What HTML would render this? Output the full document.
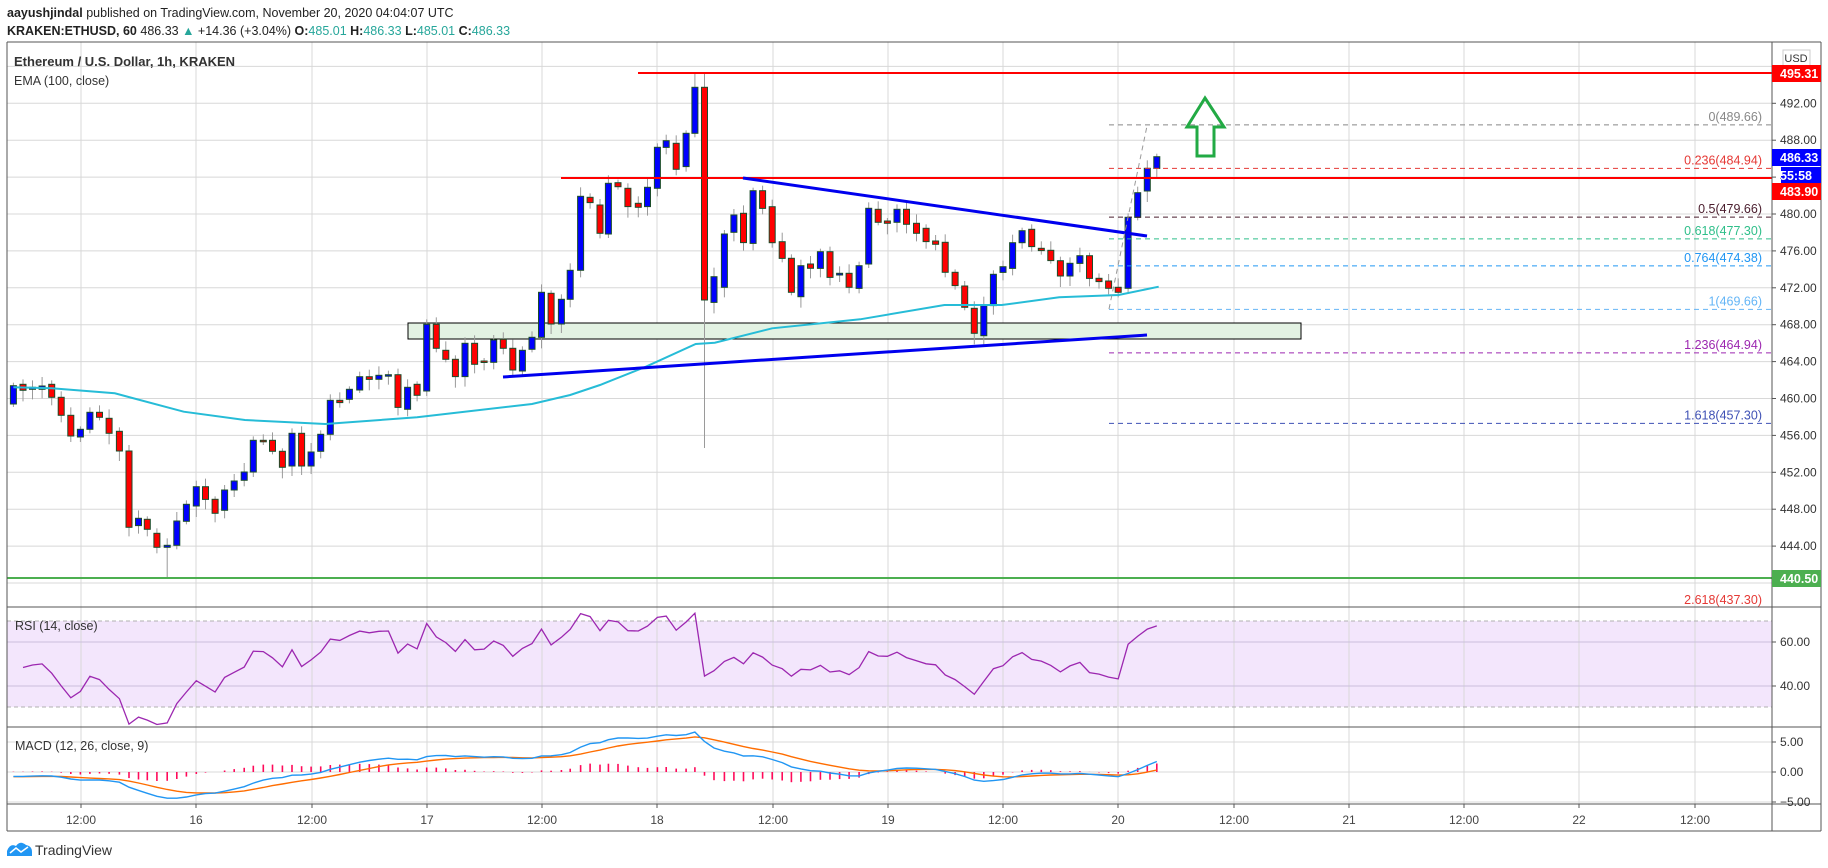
<!DOCTYPE html>
<html><head><meta charset="utf-8"><style>
html,body{margin:0;padding:0;background:#fff;width:1828px;height:868px;overflow:hidden;font-family:"Liberation Sans",sans-serif;}
#hdr1{position:absolute;left:7px;top:6px;font-size:12.5px;color:#222;}
#hdr2{position:absolute;left:7px;top:24px;font-size:12.5px;color:#222;}
.g{color:#26a69a}
</style></head><body>
<div id="hdr1"><b>aayushjindal</b> published on TradingView.com, November 20, 2020 04:04:07 UTC</div>
<div id="hdr2"><b>KRAKEN:ETHUSD, 60</b> 486.33 <span class="g">▲</span> +14.36 (+3.04%) <b>O:</b><span class="g">485.01</span> <b>H:</b><span class="g">486.33</span> <b>L:</b><span class="g">485.01</span> <b>C:</b><span class="g">486.33</span></div>
<svg id="s" width="1828" height="868" style="position:absolute;left:0;top:0" xmlns="http://www.w3.org/2000/svg"></svg>
<script>
var S=document.getElementById('s'),out='';
function L(x1,y1,x2,y2,c,w,d){out+='<line x1="'+x1+'" y1="'+y1+'" x2="'+x2+'" y2="'+y2+'" stroke="'+c+'" stroke-width="'+(w||1)+'"'+(d?' stroke-dasharray="'+d+'"':'')+'/>';}
function R(x,y,w,h,f,s){out+='<rect x="'+x+'" y="'+y+'" width="'+w+'" height="'+h+'" fill="'+f+'"'+(s?' stroke="'+s+'" stroke-width="1"':'')+'/>';}
function T(x,y,t,c,sz,a,wt){out+='<text x="'+x+'" y="'+y+'" fill="'+c+'" font-size="'+(sz||12)+'" font-family="Liberation Sans, sans-serif"'+(a?' text-anchor="'+a+'"':'')+(wt?' font-weight="'+wt+'"':'')+'>'+t+'</text>';}
function PY(p){return 214+(480-p)*9.225;}
R(7,621,1765,86,'#f3e6fc');
var tx=[81,196,312,427,542,657,773,888,1003,1118,1234,1349,1464,1579,1695];
var tl=['12:00','16','12:00','17','12:00','18','12:00','19','12:00','20','12:00','21','12:00','22','12:00'];
tx.forEach(function(x){L(x,42,x,804,'#d8d8d8',1);});
for(var p=440;p<=496;p+=4){L(7,PY(p),1772,PY(p),'#d8d8d8',1);}
L(7,642,1772,642,'#cbbfdc',1);L(7,686,1772,686,'#cbbfdc',1);
L(7,621,1772,621,'#b0b0b0',1,'4,3');L(7,707,1772,707,'#b0b0b0',1,'4,3');
L(7,742,1772,742,'#d8d8d8');L(7,772,1772,772,'#d8d8d8');L(7,802,1772,802,'#d8d8d8');
R(408,323,893,16,'#e3f2e3','#000');
var z6=[[35,'B',767,822],[60,'R',763,781],[85,'B',772,778],[110,'B',768,778],[135,'R',763,802],[160,'R',802,856],[185,'R',856,918],[210,'B',898,921],[235,'B',847,898],[260,'R',847,862],[285,'R',865,910],[312,'R',904,963],[337,'R',963,1192],[362,'B',1165,1187],[385,'R',1168,1198],[410,'R',1210,1252],[437,'B',1246,1252],[462,'B',1173,1246],[487,'B',1123,1174],[513,'B',1070,1128],[537,'R',1070,1108],[562,'R',1108,1150],[587,'B',1080,1141],[612,'B',1053,1080],[638,'B',1026,1051],[662,'B',931,1026],[688,'R',931,933],[712,'R',931,964],[738,'R',964,1012],[763,'B',910,1008],[788,'R',910,1008],[813,'B',966,1008],[838,'B',913,964],[863,'B',811,913],[888,'R',811,818],[913,'B',778,808],[940,'B',740,780],[965,'R',740,748],[990,'B',736,748],[1015,'B',734,737],[1040,'R',734,832],[1065,'B',772,838],[1090,'R',763,796],[1115,'B',583,783],[1140,'R',583,655],[1165,'R',661,688],[1190,'R',688,740],[1215,'B',640,740],[1240,'R',640,703],[1265,'R',693,697],[1290,'B',630,697],[1315,'R',628,655],[1340,'R',655,720],[1365,'B',661,723],[1390,'B',622,658],[1415,'B',487,622],[1440,'R',490,582],[1467,'B',508,582],[1490,'B',421,508],[1517,'B',199,421],[1542,'R',202,218]];
var z5=[[0,'R',225,310],[22,'B',160,312],[47,'R',158,170],[73,'R',175,230],[100,'R',220,232],[124,'B',172,230],[150,'B',52,175],[173,'B',32,52],[199,'R',40,118],[225,'B',10,110],[248,'B',-128,10],[273,'R',-128,510],[298,'B',440,517],[325,'B',312,472],[350,'B',255,307],[375,'R',250,338],[400,'B',182,340],[425,'R',182,235],[450,'R',230,338],[476,'R',335,385],[500,'R',385,487],[525,'B',407,500],[550,'R',402,415],[576,'B',365,415],[601,'R',365,442],[626,'B',430,435],[651,'R',430,472],[677,'B',407,475],[702,'B',235,402],[727,'R',238,277],[751,'R',273,280],[776,'B',238,277],[801,'R',238,283],[827,'R',280,310],[852,'R',295,335],[877,'R',333,343],[902,'R',337,427],[928,'R',427,467],[953,'R',468,532],[978,'R',535,610],[1003,'B',527,617],[1028,'B',433,527],[1053,'B',410,427],[1078,'B',338,415],[1103,'B',302,338],[1128,'R',298,350],[1153,'R',355,362],[1178,'R',361,392],[1203,'R',392,438],[1228,'B',400,438],[1254,'B',377,400],[1279,'R',377,445],[1304,'R',445,455],[1329,'R',453,475],[1354,'R',472,487],[1380,'B',262,475],[1405,'B',188,262],[1430,'B',115,183],[1455,'B',80,115]];
var C=[];
z6.forEach(function(d){C.push({x:d[0]/2.613,c:d[1],t:130+d[2]/3,b:130+d[3]/3});});
z5.forEach(function(d){C.push({x:600+d[0]/2.613,c:d[1],t:130+d[2]/3,b:130+d[3]/3});});
var closes=[];
C.forEach(function(c,i){
  var hw=3+((i*37)%7), lw=3+((i*53)%9);
  var hi=c.t-hw, lo=c.b+lw;
  if(i==z6.length+10){hi=72;}
  if(i==z6.length+11){hi=72;lo=448;}
  if(i==16){lo=578;}
  L(c.x.toFixed(1),hi,c.x.toFixed(1),lo,'#9a9a9a',1);
  var h=Math.max(1.5,c.b-c.t);
  R((c.x-3).toFixed(1),c.t.toFixed(1),6,h.toFixed(1),c.c=='B'?'#0000ff':'#ff0000','#1b4d2a');
  var y=c.c=='B'?c.t:c.b; closes.push(480-(y-214)/9.225);
});
var ema=[[35/2.613,772],[135/2.613,775],[300/2.613,790],[480/2.613,845],[640/2.613,870],[850/2.613,882],[1090/2.613,862],[1390/2.613,822],[1490/2.613,795],[600,765],[600+120/2.613,710],[600+250/2.613,642],[600+300/2.613,638],[600+450/2.613,595],[600+680/2.613,568],[600+900/2.613,525],[600+1050/2.613,525],[600+1200/2.613,502],[600+1355/2.613,495],[600+1460/2.613,470]];
out+='<polyline fill="none" stroke="#26bcd7" stroke-width="2" points="'+ema.map(function(p){return p[0].toFixed(1)+','+(130+p[1]/3).toFixed(1)}).join(' ')+'"/>';
L(638,73,1772,73,'#ff0000',2);
L(561,178,1772,178,'#ff0000',2);
L(7,578,1772,578,'#4caf50',2);
L(743,178,1147,236,'#0000ee',3);
L(503,377,1147,335,'#0000ee',3);
var fib=[[489.66,'0(489.66)','#888'],[484.94,'0.236(484.94)','#e53935'],[479.66,'0.5(479.66)','#4a1d2d'],[477.30,'0.618(477.30)','#2fbf8a'],[474.38,'0.764(474.38)','#2196f3'],[469.66,'1(469.66)','#64b5f6'],[464.94,'1.236(464.94)','#9c27b0'],[457.30,'1.618(457.30)','#3f51b5'],[437.30,'2.618(437.30)','#e53935']];
fib.forEach(function(f){var y=PY(f[0]);if(f[0]>440)L(1109,y,1772,y,f[2],1,'5,4');T(1762,y-4,f[1],f[2],12.5,'end');});
L(1109,309,1147,126,'#999',1,'5,4');
out+='<path d="M1205,98 L1224,127 L1214,127 L1214,156 L1197,156 L1197,127 L1187,127 Z" fill="none" stroke="#22aa44" stroke-width="3"/>';
var ag=0.6,al=0.6,rsi=[];
for(var i=1;i<closes.length;i++){var d=closes[i]-closes[i-1];ag=(ag*13+Math.max(d,0))/14;al=(al*13+Math.max(-d,0))/14;rsi.push([C[i].x,100-100/(1+ag/al)]);}
out+='<polyline fill="none" stroke="#9c27b0" stroke-width="1.3" points="'+rsi.map(function(p){return p[0].toFixed(1)+','+(642+(60-p[1])*2.2).toFixed(1)}).join(' ')+'"/>';
var e12=closes[0],e26=closes[0]+0.8,sg=-0.8,mac=[],sig=[];
for(var i=0;i<closes.length;i++){e12+=(closes[i]-e12)*2/13;e26+=(closes[i]-e26)*2/27;var m=e12-e26;sg+=(m-sg)*2/10;mac.push(m);sig.push(sg);
 var hh=(m-sg)*6;L(C[i].x.toFixed(1),772,C[i].x.toFixed(1),(772-hh).toFixed(1),'#ff0a5a',1.6);}
out+='<polyline fill="none" stroke="#ff6d00" stroke-width="1.4" points="'+sig.map(function(v,i){return C[i].x.toFixed(1)+','+(772-v*6).toFixed(1)}).join(' ')+'"/>';
out+='<polyline fill="none" stroke="#2196f3" stroke-width="1.4" points="'+mac.map(function(v,i){return C[i].x.toFixed(1)+','+(772-v*6).toFixed(1)}).join(' ')+'"/>';
R(1773,42,48,789,'#fff');
L(7,42,1821,42,'#555');L(7,42,7,831,'#555');L(1821,42,1821,831,'#555');L(7,831,1821,831,'#555');
L(1772,42,1772,831,'#555');L(7,607,1821,607,'#555');L(7,727,1821,727,'#555');L(7,804,1821,804,'#555');
for(var p=444;p<=492;p+=4){var y=PY(p);L(1772,y,1776,y,'#555');T(1780,y+4,p.toFixed(2),'#333',12);}
[[642,'60.00'],[686,'40.00'],[742,'5.00'],[772,'0.00'],[802,'−5.00']].forEach(function(a){L(1772,a[0],1776,a[0],'#555');T(1780,a[0]+4,a[1],'#333',12);});
R(1783,50,27,16,'#fff','#ccc');T(1796,62,'USD','#333',11,'middle');
function tag(y,t,c,x){R(x||1772,y-8,1821-(x||1772),17,c);T(1780,y+5,t,'#fff',12.5,null,'bold');}
tag(73,'495.31','#ff0000');tag(157,'486.33','#0000ff');tag(175,'55:58','#0000ff',1781);tag(191,'483.90','#ff0000');tag(578,'440.50','#4caf50');
tx.forEach(function(x,i){L(x,804,x,808,'#555');T(x,824,tl[i],'#444',12,'middle');});
T(14,66,'Ethereum / U.S. Dollar, 1h, KRAKEN','#333',13,null,'bold');
T(14,85,'EMA (100, close)','#333',12.5);
T(15,630,'RSI (14, close)','#333',12.5);
T(15,750,'MACD (12, 26, close, 9)','#333',12.5);
out+='<path d="M7,856 L7,851 Q10,843 16,846 Q20,840 26,845 Q32,846 32,852 L32,856 Z" fill="#2196f3"/>';
out+='<polyline points="10,853 16,848 21,852 28,847" fill="none" stroke="#fff" stroke-width="1.5"/>';
T(35,855,'TradingView','#333',14);
S.innerHTML=out;
</script>
</body></html>
